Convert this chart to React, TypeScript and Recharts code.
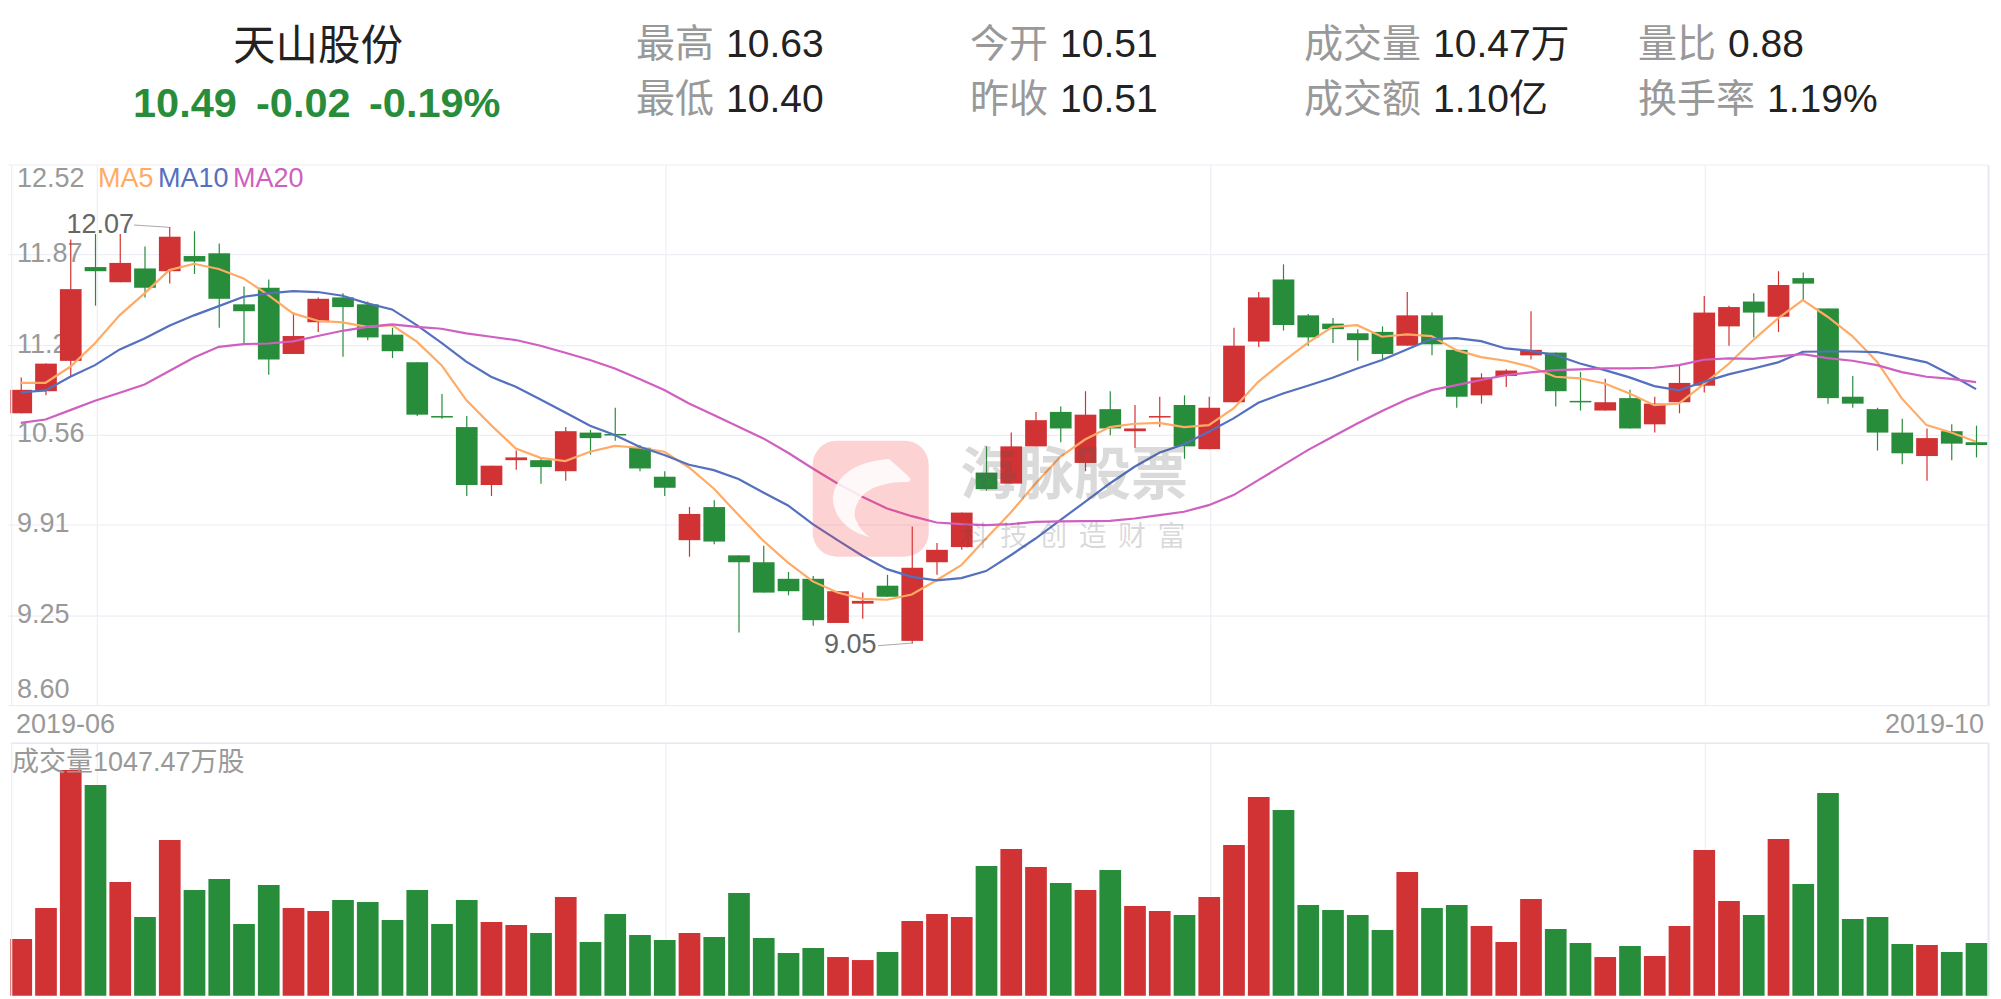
import React from 'react';
import { ComposedChart, Bar, Line, XAxis, YAxis, CartesianGrid, Cell } from 'recharts';

const opens = [10.72,10.88,11.10,11.78,11.67,11.77,11.75,11.86,11.88,11.51,11.63,11.15,11.38,11.56,11.51,11.29,11.09,10.70,10.62,10.20,10.38,10.38,10.30,10.58,10.57,10.47,10.26,9.80,10.04,9.69,9.64,9.52,9.52,9.20,9.34,9.47,9.07,9.64,9.75,10.29,10.21,10.48,10.73,10.36,10.75,10.59,10.69,10.78,10.46,10.80,11.24,11.69,11.43,11.37,11.30,11.31,11.21,11.43,11.18,10.85,10.99,11.14,11.16,10.81,10.74,10.83,10.64,10.80,10.92,11.35,11.53,11.42,11.70,11.48,10.84,10.75,10.58,10.41,10.59,10.51];
const closes = [10.89,11.08,11.62,11.75,11.81,11.63,12.00,11.82,11.55,11.46,11.11,11.28,11.55,11.49,11.27,11.17,10.71,10.69,10.20,10.34,10.40,10.33,10.59,10.54,10.56,10.32,10.18,9.99,9.79,9.64,9.42,9.43,9.22,9.43,9.36,9.39,9.60,9.73,10.00,10.17,10.48,10.67,10.61,10.71,10.61,10.61,10.70,10.48,10.76,11.21,11.56,11.36,11.27,11.33,11.25,11.15,11.43,11.22,10.84,10.98,11.03,11.18,10.88,10.80,10.80,10.61,10.79,10.94,11.45,11.49,11.45,11.65,11.66,10.83,10.79,10.58,10.43,10.54,10.50,10.49];
const highs = [10.98,11.08,11.98,12.02,12.02,11.93,12.07,12.04,11.95,11.64,11.69,11.45,11.56,11.59,11.53,11.34,11.09,10.86,10.70,10.34,10.45,10.39,10.62,10.60,10.76,10.49,10.30,10.04,10.09,9.69,9.76,9.57,9.54,9.43,9.42,9.55,9.90,9.78,10.00,10.48,10.58,10.73,10.77,10.88,10.88,10.78,10.84,10.85,10.84,11.34,11.60,11.80,11.44,11.41,11.33,11.35,11.60,11.45,11.18,11.01,11.04,11.46,11.16,11.02,10.97,10.89,10.84,11.07,11.57,11.50,11.59,11.75,11.74,11.48,10.99,10.76,10.68,10.61,10.64,10.63];
const lows = [10.72,10.85,10.99,11.50,11.67,11.56,11.66,11.73,11.34,11.23,11.00,11.15,11.31,11.13,11.25,11.12,10.70,10.68,10.12,10.12,10.31,10.21,10.23,10.42,10.52,10.30,10.12,9.68,9.77,9.13,9.42,9.40,9.18,9.20,9.23,9.39,9.05,9.55,9.73,10.16,10.21,10.48,10.51,10.30,10.56,10.47,10.62,10.39,10.46,10.80,11.20,11.32,11.21,11.23,11.10,11.11,11.21,11.14,10.76,10.79,10.91,11.11,10.77,10.74,10.74,10.61,10.58,10.72,10.87,11.21,11.27,11.31,11.54,10.79,10.76,10.45,10.35,10.23,10.38,10.40];
const ma5 = [10.941,10.941,11.057,11.227,11.432,11.589,11.758,11.804,11.766,11.698,11.577,11.444,11.391,11.379,11.347,11.359,11.239,11.069,10.816,10.634,10.465,10.397,10.373,10.441,10.484,10.470,10.441,10.327,10.175,9.982,9.796,9.638,9.501,9.421,9.375,9.368,9.406,9.510,9.619,9.812,10.001,10.211,10.405,10.530,10.620,10.644,10.651,10.620,10.634,10.755,10.948,11.094,11.231,11.347,11.359,11.275,11.292,11.280,11.178,11.127,11.101,11.057,10.985,10.973,10.936,10.864,10.779,10.791,10.932,11.077,11.251,11.408,11.541,11.420,11.280,11.094,10.828,10.634,10.581,10.513];
const ma10 = [10.871,10.886,10.985,11.069,11.183,11.263,11.355,11.430,11.497,11.565,11.589,11.606,11.599,11.572,11.517,11.473,11.359,11.231,11.094,10.985,10.912,10.820,10.726,10.629,10.562,10.477,10.417,10.347,10.308,10.243,10.146,10.052,9.916,9.800,9.687,9.590,9.534,9.508,9.525,9.576,9.691,9.812,9.945,10.078,10.211,10.332,10.434,10.496,10.586,10.683,10.796,10.864,10.920,10.977,11.045,11.106,11.183,11.258,11.265,11.243,11.190,11.173,11.142,11.081,11.033,10.980,10.917,10.886,10.948,11.002,11.045,11.089,11.166,11.168,11.168,11.164,11.127,11.089,10.997,10.895];
const ma20 = [10.651,10.675,10.743,10.811,10.869,10.929,11.026,11.125,11.202,11.222,11.226,11.241,11.280,11.318,11.347,11.364,11.347,11.333,11.299,11.275,11.251,11.210,11.159,11.106,11.045,10.968,10.888,10.791,10.707,10.622,10.538,10.434,10.320,10.211,10.115,10.030,9.974,9.928,9.916,9.909,9.916,9.933,9.936,9.938,9.940,9.957,9.982,10.006,10.054,10.127,10.235,10.344,10.453,10.550,10.646,10.736,10.820,10.888,10.924,10.961,10.997,11.016,11.033,11.038,11.045,11.045,11.050,11.069,11.108,11.118,11.115,11.132,11.149,11.120,11.101,11.069,11.018,10.985,10.970,10.946];
const volumes = [1127,1744,4489,4190,2261,1565,3096,2102,2321,1425,2201,1744,1684,1903,1863,1505,2102,1425,1903,1465,1406,1246,1962,1067,1624,1207,1107,1246,1167,2042,1147,849,948,769,709,869,1485,1624,1565,2579,2917,2559,2241,2102,2500,1783,1684,1604,1962,2997,3951,3693,1803,1704,1604,1306,2460,1744,1803,1386,1067,1923,1326,1048,769,988,789,1386,2897,1883,1604,3116,2221,4031,1525,1565,1028,1008,869,1047.47];
const priceTicks = [12.52, 11.87, 11.21, 10.56, 9.91, 9.25, 8.60];
const tickOffsets = [21.7, 7.7, 7.2, 6.4, 6.7, 6.7, -7.7];
const stockName = '天山股份';
const quote = ['10.49', '-0.02', '-0.19%'];
const stats = [
  { label: '最高', value: '10.63', lx: 636, vx: 726, y: 57 },
  { label: '最低', value: '10.40', lx: 636, vx: 726, y: 111.5 },
  { label: '今开', value: '10.51', lx: 970, vx: 1060, y: 57 },
  { label: '昨收', value: '10.51', lx: 970, vx: 1060, y: 111.5 },
  { label: '成交量', value: '10.47万', lx: 1304, vx: 1433, y: 57 },
  { label: '成交额', value: '1.10亿', lx: 1304, vx: 1433, y: 111.5 },
  { label: '量比', value: '0.88', lx: 1638, vx: 1728, y: 57 },
  { label: '换手率', value: '1.19%', lx: 1638, vx: 1767, y: 111.5 },
];

const RED = '#D13233';
const GREEN = '#288D3B';
const GRID = '#EEEEF6';
const FONT = '"Liberation Sans","Noto Sans CJK SC",sans-serif';

const rows = opens.map((o, i) => ({
  idx: i,
  open: o,
  close: closes[i],
  high: highs[i],
  low: lows[i],
  ma5: ma5[i],
  ma10: ma10[i],
  ma20: ma20[i],
  volume: volumes[i],
}));

const verticals = [97.3, 666, 1210.7, 1705.4];
const LEFT = 8.4;
const RIGHT = 2001 - 1988.4;
const priceMargin = { top: 165, left: LEFT, right: RIGHT, bottom: 999 - 705.7 };
const layer: React.CSSProperties = { position: 'absolute', left: 0, top: 0 };

function Candle(props: any) {
  const { x, y, width, height, payload } = props;
  const { open, close, high, low } = payload;
  const up = close >= open;
  const color = up ? RED : GREEN;
  const perUnit = height / (high - low);
  const top = y + (high - Math.max(open, close)) * perUnit;
  const bodyH = Math.max(Math.abs(open - close) * perUnit, 1.5);
  const cx = x + width / 2;
  return (
    <g>
      <line x1={cx} x2={cx} y1={y} y2={y + height} stroke={color} strokeWidth={1.2} />
      <rect x={x} y={top} width={width} height={bodyH} fill={color} />
    </g>
  );
}

function PriceTick(props: any) {
  const { y, payload, index } = props;
  return (
    <text x={17} y={y + tickOffsets[index]} fontSize={27} fill="#999" fontFamily={FONT}>
      {Number(payload.value).toFixed(2)}
    </text>
  );
}

export default function App() {
  return (
    <div style={{ position: 'absolute', left: 0, top: 0, width: 2001, height: 999, overflow: 'hidden', background: '#fff', fontFamily: FONT }}>
      {/* grid and price labels lie under the candles */}
      <div style={layer}>
        <ComposedChart width={2001} height={999} data={rows} margin={priceMargin}>
          <CartesianGrid stroke={GRID} strokeWidth={1.2} verticalPoints={verticals} syncWithTicks />
          <XAxis dataKey="idx" hide />
          <YAxis
            mirror
            domain={[8.6, 12.52]}
            ticks={priceTicks}
            interval={0}
            axisLine={false}
            tickLine={false}
            tick={PriceTick}
            allowDataOverflow
          />
          <Line dataKey="ma5" stroke="none" dot={false} isAnimationActive={false} />
        </ComposedChart>
      </div>
      <div style={layer}>
        <ComposedChart width={2001} height={999} data={rows} margin={priceMargin}>
          <XAxis dataKey="idx" hide />
          <YAxis hide domain={[8.6, 12.52]} allowDataOverflow />
          <Bar dataKey={(d: any) => [d.low, d.high]} barSize={21.7} shape={Candle} isAnimationActive={false} />
          <Line dataKey="ma5" stroke="#FFAB66" strokeWidth={2.2} dot={false} isAnimationActive={false} />
          <Line dataKey="ma10" stroke="#5470BE" strokeWidth={2.2} dot={false} isAnimationActive={false} />
          <Line dataKey="ma20" stroke="#CF5FC0" strokeWidth={2.2} dot={false} isAnimationActive={false} />
        </ComposedChart>
      </div>
      <div style={layer}>
        <ComposedChart width={2001} height={999} data={rows} margin={{ top: 743.3, left: LEFT, right: RIGHT, bottom: 999 - 995.7 }}>
          <CartesianGrid stroke={GRID} strokeWidth={1.2} verticalPoints={verticals} horizontal={false} />
          <XAxis dataKey="idx" hide />
          <YAxis domain={[0, 5019]} hide />
          <Bar dataKey="volume" barSize={21.7} isAnimationActive={false}>
            {rows.map((r) => (
              <Cell key={r.idx} fill={r.close >= r.open ? RED : GREEN} />
            ))}
          </Bar>
        </ComposedChart>
      </div>
      <svg width={2001} height={999} style={{ position: 'absolute', left: 0, top: 0, pointerEvents: 'none' }} fontFamily={FONT}>
        {/* frames */}
        <line x1={11.7} x2={11.7} y1={165} y2={705.7} stroke={GRID} strokeWidth={1.2} />
        <line x1={11.7} x2={11.7} y1={743} y2={996} stroke={GRID} strokeWidth={1.2} />
        <line x1={1988.6} x2={1988.6} y1={165} y2={705.7} stroke="#E6E9F4" strokeWidth={2} />
        <line x1={1988.6} x2={1988.6} y1={743} y2={996} stroke="#E6E9F4" strokeWidth={2} />
        <line x1={11} x2={1989} y1={743.3} y2={743.3} stroke="#E8E8F3" strokeWidth={1.6} />

        {/* watermark */}
        <rect x={812.7} y={440.7} width={116} height={116} rx={24} fill="#F03C3C" fillOpacity={0.23} />
        <path d="M889 459 C897 466 904 472 909 477 C912 480 910 482 906 482 C890 482 875 485 864 494 C855 503 852 515 857 522 C860 529 865 534 870 537 C850 533 834 518 833 500 C833 480 850 462 889 459 Z" fill="#fff" fillOpacity={0.85} />
        <text x={960} y={494} fontSize={57} fontWeight={700} fill="#555" fillOpacity={0.22}>海脉股票</text>
        <text x={960.5} y={546} fontSize={28} letterSpacing={11.4} fill="#555" fillOpacity={0.22}>科技创造财富</text>

        {/* header */}
        <text x={318} y={60} fontSize={42.5} fill="#222" textAnchor="middle">{stockName}</text>
        <text x={133} y={116.5} fontSize={41.5} fontWeight={700} fill={GREEN}>{quote[0]}</text>
        <text x={256} y={116.5} fontSize={41.5} fontWeight={700} fill={GREEN}>{quote[1]}</text>
        <text x={369} y={116.5} fontSize={41.5} fontWeight={700} fill={GREEN}>{quote[2]}</text>
        {stats.map((s) => (
          <g key={s.label}>
            <text x={s.lx} y={s.y} fontSize={39} fill="#999">{s.label}</text>
            <text x={s.vx} y={s.y} fontSize={39} fill="#222">{s.value}</text>
          </g>
        ))}

        {/* legend */}
        <text x={98} y={186.7} fontSize={27} fill="#FFAB66">MA5</text>
        <text x={158} y={186.7} fontSize={27} fill="#5470BE">MA10</text>
        <text x={233} y={186.7} fontSize={27} fill="#CF5FC0">MA20</text>

        {/* extreme labels */}
        <text x={66.5} y={232.7} fontSize={27} fill="#666">12.07</text>
        <line x1={134} y1={225} x2={169} y2={227.3} stroke="#aaa" strokeWidth={1} />
        <text x={824} y={652.7} fontSize={27} fill="#666">9.05</text>
        <line x1={878} y1={645.7} x2={913} y2={643} stroke="#aaa" strokeWidth={1} />

        {/* dates */}
        <text x={16} y={732.7} fontSize={27} fill="#999">2019-06</text>
        <text x={1984} y={732.7} fontSize={27} fill="#999" textAnchor="end">2019-10</text>
        <text x={12} y={771} fontSize={27} fill="#999">成交量1047.47万股</text>
      </svg>
    </div>
  );
}
